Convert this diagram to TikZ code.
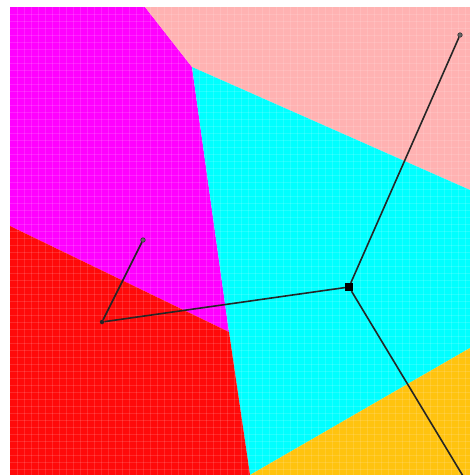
\documentclass[tikz,border=0pt]{standalone}
\begin{document}
\begin{tikzpicture}[x=1pt,y=-1pt,
  region/.style={draw=none},
  gridline/.style={white, opacity=0.13, line width=0.5pt},
  link/.style={draw=black!85, line width=1.6pt},
  endpt/.style={circle, draw=black!80, fill=black!60, line width=0.6pt, inner sep=0pt, minimum size=4.5pt},
  hub/.style={rectangle, fill=black, inner sep=0pt, minimum size=8pt},
  dotpt/.style={circle, fill=black!85, inner sep=0pt, minimum size=4.5pt}]
\useasboundingbox (0,0) rectangle (470,475);
\fill[white] (0,0) rectangle (470,475);
% regions
\fill[region, fill={rgb,255:red,255;green,0;blue,255}] (10,7) -- (145,7) -- (192,67) -- (229,332) -- (10,226) -- cycle;
\fill[region, fill={rgb,255:red,255;green,178;blue,178}] (145,7) -- (470,7) -- (470,190) -- (192,67) -- cycle;
\fill[region, fill={rgb,255:red,0;green,255;blue,255}] (192,67) -- (470,190) -- (470,348) -- (250,475) -- (229,332) -- cycle;
\fill[region, fill={rgb,255:red,255;green,10;blue,10}] (10,226) -- (229,332) -- (250,475) -- (10,475) -- cycle;
\fill[region, fill={rgb,255:red,255;green,195;blue,15}] (250,475) -- (470,348) -- (470,475) -- cycle;
% faint pixel grid
\foreach \gx in {17,24,...,470} {\draw[gridline] (\gx,7) -- (\gx,475);}
\foreach \gy in {14,21,...,475} {\draw[gridline] (10,\gy) -- (470,\gy);}
% nodes
\node[hub] (h) at (349,287) {};
\node[endpt] (tr) at (460,35) {};
\node[dotpt] (l) at (102,322) {};
\node[endpt] (lt) at (143,240) {};
\coordinate (b) at (463,476);
% connectors
\draw[link] (h) -- (tr);
\draw[link] (h) -- (l);
\draw[link] (h) -- (b);
\draw[link] (l) -- (lt);
\end{tikzpicture}
\end{document}
